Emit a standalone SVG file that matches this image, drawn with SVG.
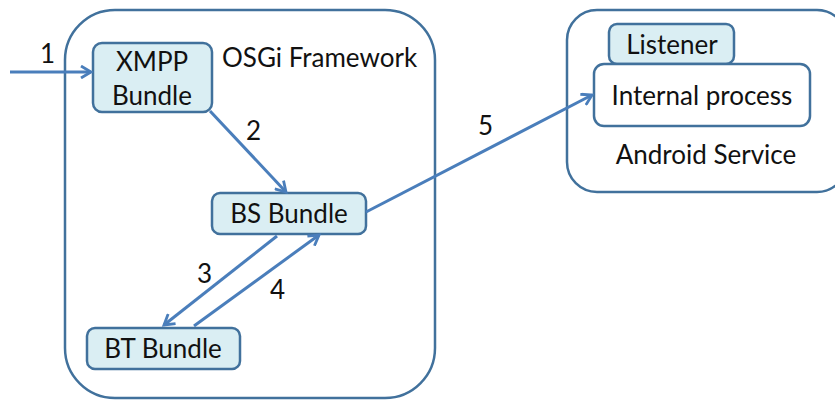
<svg xmlns="http://www.w3.org/2000/svg" width="835" height="401" viewBox="0 0 835 401">
<style>
.t{font-family:Lato,"Open Sans","Liberation Sans",sans-serif;font-size:26px;fill:#111;}
.c{text-anchor:middle;}
.box{fill:#DAEEF3;stroke:#41719C;stroke-width:2.5;}
.wbox{fill:#fff;stroke:#41719C;stroke-width:2.5;}
.cont{fill:none;stroke:#41719C;stroke-width:2.5;}
.ln{fill:none;stroke:#4A7EBB;stroke-width:3;marker-end:url(#ah);}
</style>
<defs>
<marker id="ah" markerWidth="14" markerHeight="14" refX="11" refY="7" orient="auto" markerUnits="userSpaceOnUse">
<path d="M1,1 L11,7 L1,13" fill="none" stroke="#4A7EBB" stroke-width="2.8"/>
</marker>
</defs>
<rect width="835" height="401" fill="#fff"/>
<g id="osgi">
<rect class="cont" x="65" y="10" width="370" height="388" rx="50"/>
<text class="t" x="222" y="67">OSGi Framework</text>
</g>
<g id="android">
<rect class="cont" x="567" y="10" width="280" height="182" rx="30"/>
<text class="t c" x="706" y="164">Android Service</text>
</g>
<g id="listener">
<rect class="box" x="609" y="24" width="125" height="40" rx="8"/>
<text class="t c" x="672" y="54">Listener</text>
</g>
<g id="internal">
<rect class="wbox" x="594" y="64" width="216" height="62" rx="10"/>
<text class="t c" x="702" y="105">Internal process</text>
</g>
<g id="xmpp">
<rect class="box" x="93" y="43" width="119" height="69" rx="9"/>
<text class="t c" x="152" y="71">XMPP</text>
<text class="t c" x="152" y="105">Bundle</text>
</g>
<g id="bs">
<rect class="box" x="212" y="193" width="154" height="41" rx="8"/>
<text class="t c" x="289" y="223">BS Bundle</text>
</g>
<g id="bt">
<rect class="box" x="87" y="328" width="153" height="41" rx="8"/>
<text class="t c" x="163" y="358">BT Bundle</text>
</g>
<g id="connectors">
<line class="ln" x1="10" y1="72" x2="91" y2="72"/>
<line class="ln" x1="210" y1="111" x2="286" y2="192"/>
<line class="ln" x1="277" y1="236" x2="164" y2="325"/>
<line class="ln" x1="194" y1="326" x2="319" y2="235"/>
<line class="ln" x1="366" y1="212" x2="592" y2="95"/>
<text class="t" x="40" y="63">1</text>
<text class="t" x="246" y="140">2</text>
<text class="t" x="197" y="283">3</text>
<text class="t" x="270" y="299">4</text>
<text class="t" x="478" y="135">5</text>
</g>
</svg>
